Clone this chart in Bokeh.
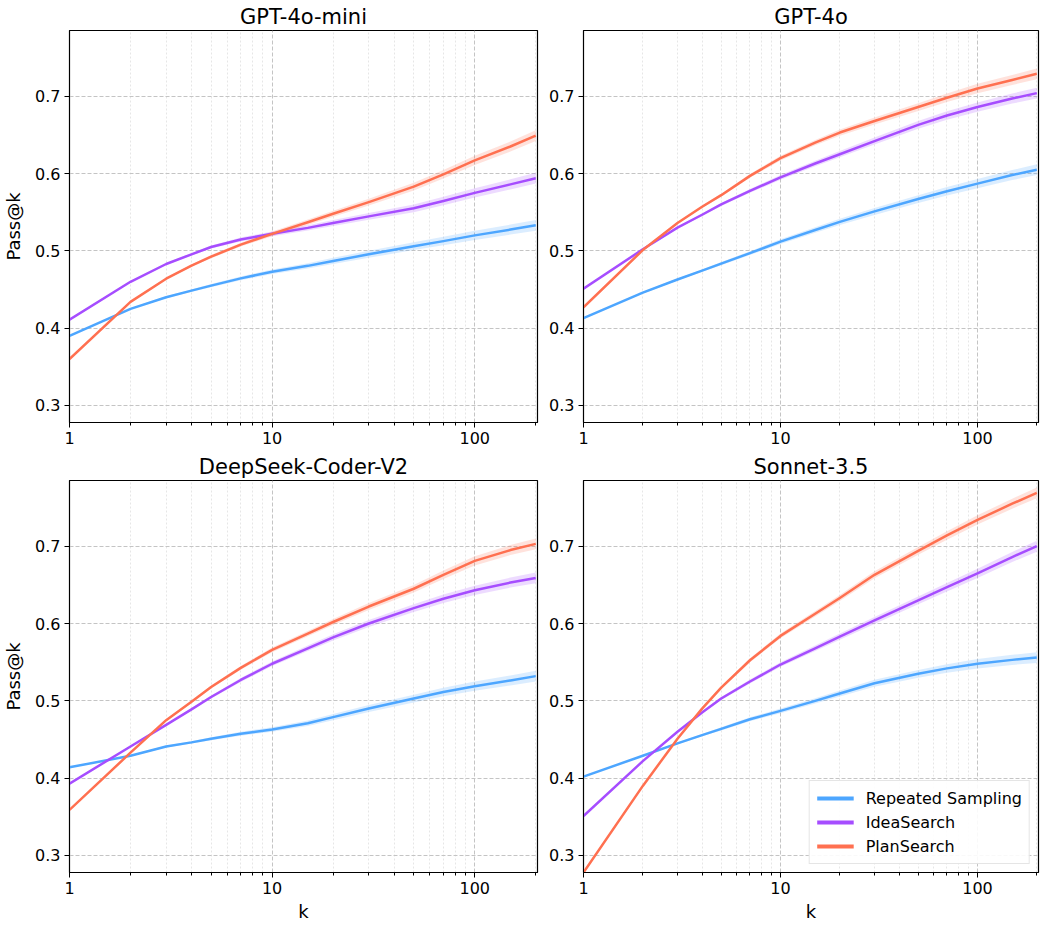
from bokeh.plotting import figure
from bokeh.layouts import column, row
from bokeh.models import FixedTicker, Legend, LegendItem, Range1d
from bokeh.embed import file_html
from bokeh.resources import INLINE

# ---------------- data ----------------
K = [1, 2, 3, 4, 5, 7, 10, 15, 20, 30, 50, 70, 100, 150, 200]
BAND = [0.0, 0.001, 0.0012, 0.0015, 0.002, 0.0025, 0.003, 0.0035, 0.004,
        0.0045, 0.005, 0.0055, 0.006, 0.0065, 0.007]

TITLES = ["GPT-4o-mini", "GPT-4o", "DeepSeek-Coder-V2", "Sonnet-3.5"]
SERIES = ["Repeated Sampling", "IdeaSearch", "PlanSearch"]
COLORS = ["#4da6ff", "#a64dff", "#ff7050"]

gpt4o_mini_rs = [0.390, 0.425, 0.440, 0.4486, 0.455, 0.4644, 0.473, 0.4806, 0.487, 0.4955, 0.506, 0.5126, 0.520, 0.5275, 0.533]
gpt4o_mini_is = [0.411, 0.460, 0.483, 0.4955, 0.505, 0.5147, 0.522, 0.5297, 0.536, 0.5446, 0.555, 0.5645, 0.575, 0.586, 0.594]
gpt4o_mini_ps = [0.360, 0.434, 0.464, 0.481, 0.4925, 0.508, 0.522, 0.537, 0.548, 0.563, 0.583, 0.599, 0.617, 0.635, 0.649]

gpt4o_rs = [0.413, 0.446, 0.463, 0.4745, 0.4835, 0.497, 0.512, 0.527, 0.5375, 0.551, 0.567, 0.577, 0.587, 0.598, 0.605]
gpt4o_is = [0.451, 0.502, 0.530, 0.5467, 0.560, 0.5775, 0.595, 0.613, 0.625, 0.642, 0.663, 0.675, 0.686, 0.697, 0.704]
gpt4o_ps = [0.427, 0.501, 0.536, 0.557, 0.572, 0.597, 0.620, 0.640, 0.653, 0.668, 0.686, 0.698, 0.710, 0.721, 0.729]

deepseek_rs = [0.414, 0.429, 0.441, 0.4463, 0.451, 0.4574, 0.463, 0.471, 0.479, 0.4902, 0.503, 0.5115, 0.519, 0.5264, 0.532]
deepseek_is = [0.393, 0.441, 0.469, 0.489, 0.505, 0.527, 0.548, 0.568, 0.582, 0.600, 0.620, 0.632, 0.643, 0.653, 0.659]
deepseek_ps = [0.359, 0.433, 0.475, 0.4987, 0.518, 0.5426, 0.566, 0.587, 0.602, 0.622, 0.645, 0.663, 0.681, 0.695, 0.703]

sonnet_rs = [0.402, 0.429, 0.445, 0.4556, 0.4638, 0.4762, 0.487, 0.500, 0.5095, 0.5227, 0.535, 0.542, 0.548, 0.553, 0.556]
sonnet_is = [0.351, 0.422, 0.460, 0.485, 0.503, 0.525, 0.547, 0.568, 0.583, 0.604, 0.630, 0.647, 0.665, 0.686, 0.700]
sonnet_ps = [0.278, 0.390, 0.451, 0.490, 0.517, 0.5525, 0.584, 0.6126, 0.633, 0.663, 0.694, 0.714, 0.734, 0.755, 0.769]

PANELS = [
    [gpt4o_mini_rs, gpt4o_mini_is, gpt4o_mini_ps],
    [gpt4o_rs, gpt4o_is, gpt4o_ps],
    [deepseek_rs, deepseek_is, deepseek_ps],
    [sonnet_rs, sonnet_is, sonnet_ps],
]

Y_TICKS = [0.3, 0.4, 0.5, 0.6, 0.7]
X_TICKS = [1, 10, 100]
X_MINOR = [2, 3, 4, 5, 6, 7, 8, 9, 20, 30, 40, 50, 60, 70, 80, 90, 200]
X_LABELS = {1: "1", 10: "10", 100: "100"}

FONT = "DejaVu Sans"


def make_panel(idx):
    left = idx % 2 == 0
    bottom = idx >= 2
    p = figure(
        x_axis_type="log",
        x_range=Range1d(1, 204),
        y_range=Range1d(0.278, 0.785),
        frame_width=468 if left else 455,
        frame_height=392,
        min_border_left=58 if left else 42,
        min_border_right=4 if left else 2,
        min_border_top=4,
        min_border_bottom=46 if bottom else 28,
        output_backend="svg",
        toolbar_location=None,
        title=TITLES[idx],
    )
    p.title.align = "center"
    p.title.text_font = FONT
    p.title.text_font_size = "21px"
    p.title.text_font_style = "normal"
    p.title.text_color = "black"
    p.title.standoff = 4
    p.outline_line_color = "black"
    p.outline_line_alpha = 1.0
    p.outline_line_width = 1.2
    p.background_fill_color = "white"

    for ax in (p.xaxis[0], p.yaxis[0]):
        ax.axis_line_color = "black"
        ax.major_tick_line_color = "black"
        ax.major_tick_out = 5
        ax.major_tick_in = 0
        ax.major_label_text_font = FONT
        ax.major_label_text_font_size = "16px"
        ax.major_label_text_color = "black"
        ax.axis_label_text_font = FONT
        ax.axis_label_text_font_size = "18px"
        ax.axis_label_text_font_style = "normal"
        ax.axis_label_text_color = "black"
    p.xaxis.ticker = FixedTicker(ticks=X_TICKS, minor_ticks=X_MINOR)
    p.xaxis.major_label_overrides = X_LABELS
    p.xaxis.minor_tick_line_color = "black"
    p.xaxis.minor_tick_out = 3
    p.xaxis.minor_tick_in = 0
    p.xaxis.major_label_standoff = 4
    p.yaxis.ticker = FixedTicker(ticks=Y_TICKS)
    p.yaxis.minor_tick_line_color = None
    p.yaxis.major_label_standoff = 4
    if left:
        p.yaxis.axis_label = "Pass@k"
        p.yaxis.axis_label_standoff = 8
    if bottom:
        p.xaxis.axis_label = "k"
        p.xaxis.axis_label_standoff = 4

    p.xgrid.grid_line_color = "#c4c4c4"
    p.xgrid.grid_line_dash = "4 2"
    p.xgrid.minor_grid_line_color = "#e6e6e6"
    p.xgrid.minor_grid_line_dash = "2 2"
    p.ygrid.grid_line_color = "#c4c4c4"
    p.ygrid.grid_line_dash = "4 2"

    data = PANELS[idx]
    for s, vals in enumerate(data):
        lo = [v - b for v, b in zip(vals, BAND)]
        hi = [v + b for v, b in zip(vals, BAND)]
        p.varea(x=K, y1=lo, y2=hi, fill_color=COLORS[s], fill_alpha=0.2)
    for s, vals in enumerate(data):
        p.line(K, vals, line_color=COLORS[s], line_width=2.5, line_join="round")

    if idx == 3:
        items = []
        for s, name in enumerate(SERIES):
            # legend proxy drawn outside the visible x range
            r = p.line([1000, 2000], [0.5, 0.5], line_color=COLORS[s], line_width=4)
            items.append(LegendItem(label=name, renderers=[r]))
        leg = Legend(items=items, location="bottom_right")
        leg.label_text_font = FONT
        leg.label_text_font_size = "16px"
        leg.label_text_color = "black"
        leg.glyph_width = 37
        leg.glyph_height = 20
        leg.spacing = 4
        leg.padding = 7
        leg.margin = 8
        leg.label_standoff = 12
        leg.border_line_color = "#cccccc"
        leg.border_line_width = 1
        leg.background_fill_alpha = 0.9
        p.add_layout(leg)
    return p


panels = [make_panel(i) for i in range(4)]
layout = column(row(panels[0], panels[1], spacing=0),
                row(panels[2], panels[3], spacing=0), spacing=0)

open("out.html", "w").write(file_html(layout, INLINE))
